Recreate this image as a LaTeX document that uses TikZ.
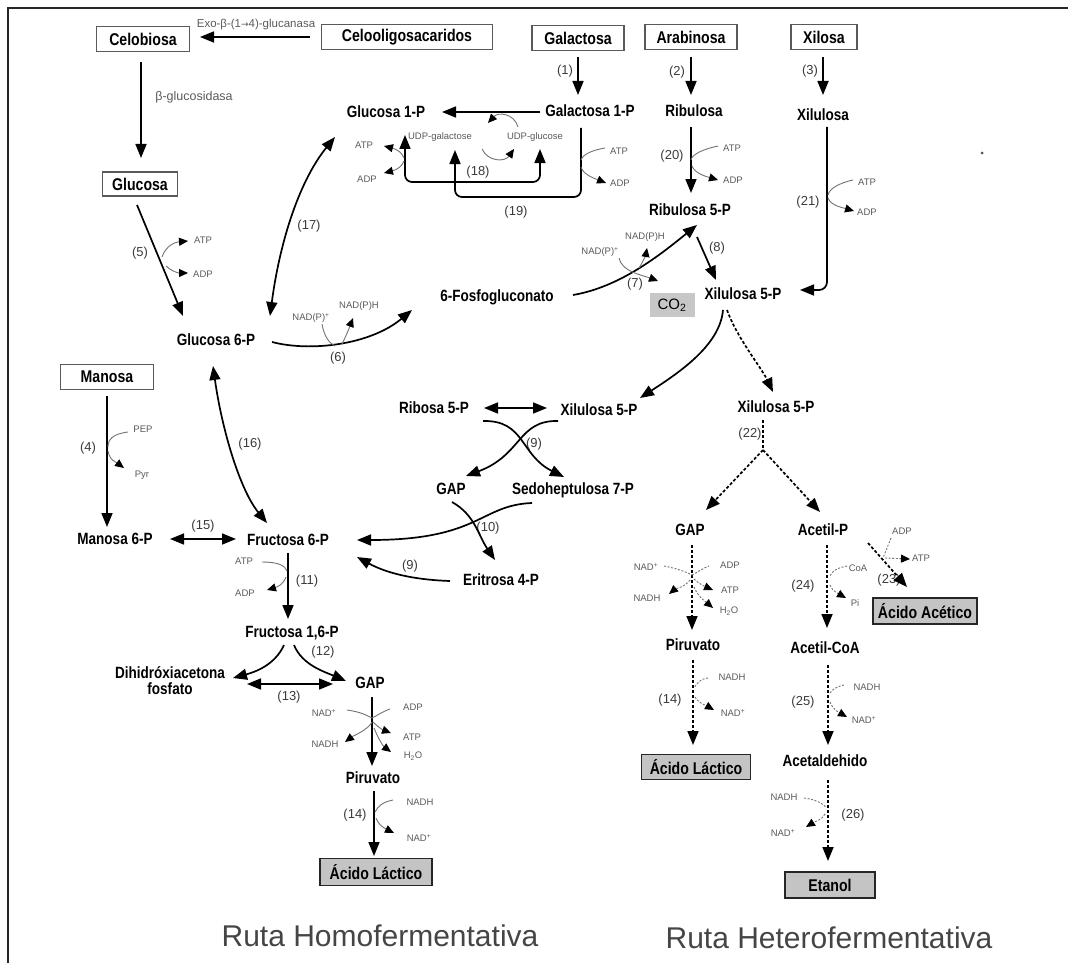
\documentclass[tikz,border=0pt]{standalone}
\usepackage{fontspec}
\setmainfont{Liberation Sans}
\newfontfamily\narrowfont[FakeStretch=0.83]{Liberation Sans}
\newfontfamily\djv{DejaVu Sans}
\usetikzlibrary{arrows.meta,calc}
\definecolor{txtgrey}{HTML}{5A5A5A}
\definecolor{numgrey}{HTML}{3A3A3A}
\definecolor{boxfill}{HTML}{C4C4C4}
\definecolor{titlegrey}{HTML}{454545}
\begin{document}
\begin{tikzpicture}[x=1pt,y=-1pt,
  lbl/.style={font=\narrowfont\bfseries\fontsize{16.3}{17}\selectfont, inner sep=1pt},
  srcbox/.style={draw=black!65, line width=1.1pt, font=\narrowfont\bfseries\fontsize{17}{18}\selectfont, inner sep=0pt, minimum height=25pt},
  endbox/.style={draw=black!85, line width=1.4pt, fill=boxfill, font=\narrowfont\bfseries\fontsize{17}{18}\selectfont, inner sep=0pt, minimum height=26pt},
  sm/.style={font=\fontsize{9.5}{10}\selectfont, text=txtgrey, inner sep=0.5pt},
  num/.style={font=\fontsize{13}{14}\selectfont, text=numgrey, inner sep=0.5pt},
  arr/.style={line width=1.7pt, -{Triangle[length=14pt,width=11pt]}},
  dbl/.style={line width=1.7pt, {Triangle[length=14pt,width=11pt]}-{Triangle[length=14pt,width=11pt]}},
  dsh/.style={dash pattern=on 3pt off 2pt},
  cof/.style={line width=0.9pt, draw=black!55},
  cofa/.style={cof, -{Triangle[length=9pt,width=8pt,color=black]}},
  cofd/.style={cof, dash pattern=on 2pt off 1.6pt},
]
\useasboundingbox (0,0) rectangle (1068,963);
% frame
\draw[line width=2pt, black!85] (8,963) -- (8,8) -- (1068,8);

% ---------- nodes ----------
\node[srcbox, minimum width=93pt]  (celob) at (143,39) {Celobiosa};
\node[srcbox, minimum width=171pt] (celoo) at (407,37) {Celooligosacaridos};
\node[srcbox, minimum width=92pt]  (galac) at (578,38) {Galactosa};
\node[srcbox, minimum width=92pt]  (arab)  at (691,37) {Arabinosa};
\node[srcbox, minimum width=66pt]  (xil)   at (824,37) {Xilosa};
\node[srcbox, minimum width=75pt, minimum height=24pt] (gluc) at (140,184) {Glucosa};
\node[srcbox, minimum width=93pt]  (man)   at (107,377) {Manosa};

\node[lbl] (gal1p) at (590,111) {Galactosa 1-P};
\node[lbl] (rib)   at (694,111) {Ribulosa};
\node[lbl] (xilu)  at (823,115) {Xilulosa};
\node[lbl] (glc1p) at (386,112) {Glucosa 1-P};
\node[sm]  (udpgal) at (440,137) {UDP-galactose};
\node[sm]  (udpglc) at (535,137) {UDP-glucose};
\node[lbl] (rib5p) at (690,210) {Ribulosa 5-P};
\node[lbl] (xu5pa) at (743,294) {Xilulosa 5-P};
\node[lbl] (fosf)  at (497,297) {6-Fosfogluconato};
\node[fill=black!22, minimum width=45pt, minimum height=24pt, inner sep=0pt, font=\fontsize{15}{16}\selectfont] (co2) at (672,305) {CO\textsubscript{2}};
\node[lbl] (g6p)   at (216,340) {Glucosa 6-P};
\node[lbl] (r5p)   at (434,408) {Ribosa 5-P};
\node[lbl] (xu5pb) at (599,410) {Xilulosa 5-P};
\node[lbl] (xu5pc) at (776,407) {Xilulosa 5-P};
\node[lbl] (gapa)  at (451,489) {GAP};
\node[lbl] (sedo)  at (573,490) {Sedoheptulosa 7-P};
\node[lbl] (m6p)   at (115,539) {Manosa 6-P};
\node[lbl] (f6p)   at (288,540) {Fructosa 6-P};
\node[lbl] (e4p)   at (501,580) {Eritrosa 4-P};
\node[lbl] (f16p)  at (292,633) {Fructosa 1,6-P};
\node[lbl, align=center] (dhap) at (170,681) {Dihidróxiacetona\\[-1pt]fosfato};
\node[lbl] (gapb)  at (370,683) {GAP};
\node[lbl] (pyra)  at (373,778) {Piruvato};
\node[endbox, minimum width=112pt, minimum height=27pt] (lac1) at (376,872) {Ácido Láctico};
\node[lbl] (gapc)  at (690,530) {GAP};
\node[lbl] (acp)   at (823,530) {Acetil-P};
\node[endbox, minimum width=104pt] (acet) at (925,611) {Ácido Acético};
\node[lbl] (pyrb)  at (693,645) {Piruvato};
\node[lbl] (accoa) at (825,648) {Acetil-CoA};
\node[endbox, minimum width=109pt, minimum height=25pt] (lac2) at (696,767) {Ácido Láctico};
\node[lbl] (acald) at (825,761) {Acetaldehido};
\node[endbox, minimum width=90pt] (etan) at (830,885) {Etanol};

\node[font=\fontsize{30}{32}\selectfont, text=titlegrey] (t1) at (380,936) {Ruta Homofermentativa};
\node[font=\fontsize{30}{32}\selectfont, text=titlegrey] (t2) at (829,938) {Ruta Heterofermentativa};
\node[circle, fill=black!70, inner sep=0pt, minimum size=3pt] (dot) at (982,153) {};

% enzyme labels
\node[font=\fontsize{11.5}{12}\selectfont, text=txtgrey, inner sep=0pt] (exo) at (256,25) {Exo-β-(1{\djv\fontsize{9}{10}\selectfont→}4)-glucanasa};
\node[font=\fontsize{12.5}{13}\selectfont, text=txtgrey, inner sep=0pt] (bglu) at (194,97) {β-glucosidasa};

% cofactor labels
\node[sm] (atpA) at (364,145) {ATP};
\node[sm] (adpA) at (367,179) {ADP};
\node[sm] (atpB) at (619,151) {ATP};
\node[sm] (adpB) at (620,183) {ADP};
\node[sm] (atpC) at (732,148) {ATP};
\node[sm] (adpC) at (733,180) {ADP};
\node[sm] (atpD) at (867,182) {ATP};
\node[sm] (adpD) at (867,212) {ADP};
\node[sm] (nadp1) at (600,252) {NAD(P)\textsuperscript{+}};
\node[sm] (nadph1) at (645,237) {NAD(P)H};
\node[sm] (atpE) at (203,240) {ATP};
\node[sm] (adpE) at (203,274) {ADP};
\node[sm] (nadp2) at (311,318) {NAD(P)\textsuperscript{+}};
\node[sm] (nadph2) at (359,306) {NAD(P)H};
\node[sm] (pep) at (143,429) {PEP};
\node[sm] (pyr) at (142,475) {Pyr};
\node[sm] (atpF) at (244,561) {ATP};
\node[sm] (adpF) at (245,593) {ADP};
\node[sm] (nad1) at (324,713) {NAD\textsuperscript{+}};
\node[sm] (nadh1) at (325,744) {NADH};
\node[sm] (adp1) at (413,707) {ADP};
\node[sm] (atp1) at (412,737) {ATP};
\node[sm] (h2o1) at (413,756) {H\textsubscript{2}O};
\node[sm] (nadh2) at (420,802) {NADH};
\node[sm] (nad2) at (419,838) {NAD\textsuperscript{+}};
\node[sm] (nad3) at (646,567) {NAD\textsuperscript{+}};
\node[sm] (nadh3) at (647,598) {NADH};
\node[sm] (adp3) at (730,565) {ADP};
\node[sm] (atp3) at (730,590) {ATP};
\node[sm] (h2o3) at (729,611) {H\textsubscript{2}O};
\node[sm] (nadh4) at (732,677) {NADH};
\node[sm] (nad4) at (733,713) {NAD\textsuperscript{+}};
\node[sm] (coa) at (858,568) {CoA};
\node[sm] (pi) at (855,603) {Pi};
\node[sm] (adp5) at (902,531) {ADP};
\node[sm] (atp5) at (921,558) {ATP};
\node[sm] (nadh5) at (867,687) {NADH};
\node[sm] (nad5) at (864,720) {NAD\textsuperscript{+}};
\node[sm] (nadh6) at (784,797) {NADH};
\node[sm] (nad6) at (783,833) {NAD\textsuperscript{+}};

% reaction numbers
\node[num] (n1) at (565,71) {(1)};
\node[num] (n2) at (677,72) {(2)};
\node[num] (n3) at (810,71) {(3)};
\node[num] (n5) at (140,253) {(5)};
\node[num] (n17) at (309,226) {(17)};
\node[num] (n18) at (478,172) {(18)};
\node[num] (n19) at (516,212) {(19)};
\node[num] (n20) at (672,156) {(20)};
\node[num] (n21) at (808,202) {(21)};
\node[num] (n8) at (717,248) {(8)};
\node[num] (n7) at (635,284) {(7)};
\node[num] (n6) at (338,358) {(6)};
\node[num] (n4) at (88,448) {(4)};
\node[num] (n16) at (250,444) {(16)};
\node[num] (n15) at (203,526) {(15)};
\node[num] (n11) at (307,581) {(11)};
\node[num] (n12) at (323,652) {(12)};
\node[num] (n13) at (289,697) {(13)};
\node[num] (n14a) at (355,815) {(14)};
\node[num] (n9a) at (534,444) {(9)};
\node[num] (n10) at (488,528) {(10)};
\node[num] (n9b) at (410,566) {(9)};
\node[num] (n22) at (750,434) {(22)};
\node[num] (n24) at (803,586) {(24)};
\node[num] (n23) at (889,580) {(23)};
\node[num] (n14b) at (670,700) {(14)};
\node[num] (n25) at (803,702) {(25)};
\node[num] (n26) at (853,815) {(26)};

% ---------- main connectors ----------
\draw[arr] ($(celoo)+(-97,0)$) -- ($(celob)+(57,-2)$);
\draw[arr] ($(celob)+(-2,23)$) -- ($(gluc)+(1,-26)$);
\draw[arr] ($(galac)+(0,19)$) -- ($(gal1p)+(-12,-16)$);
\draw[arr] ($(arab)+(0,20)$) -- ($(rib)+(-3,-16)$);
\draw[arr] ($(xil)+(-1,20)$) -- ($(xilu)+(0,-20)$);
\draw[arr] ($(gal1p)+(-50,1)$) -- ($(glc1p)+(56,0)$);
\draw[dbl, rounded corners=7pt] ($(glc1p)+(19,23)$) -- ($(glc1p)+(19,70)$) -- ($(udpglc)+(5,45)$) -- ($(udpglc)+(5,12)$);
\draw[arr, rounded corners=7pt] ($(gal1p)+(-9,17)$) -- ($(gal1p)+(-9,86)$) -- ($(udpgal)+(15,60)$) -- ($(udpgal)+(15,13)$);
\draw[cofa] ($(udpglc)+(-17,-10)$) .. controls +(-4,-14) and +(10,-11) .. ($(udpgal)+(48,-14)$);
\draw[cofa] ($(udpgal)+(42,12)$) .. controls +(6,13) and +(-9,13) .. ($(udpglc)+(-21,12)$);
\draw[cofa] ($(glc1p)+(18,46)$) .. controls +(-3,-8) and +(8,2) .. ($(atpA)+(20,1)$);
\draw[cofa] ($(glc1p)+(18,49)$) .. controls +(-3,8) and +(8,-2) .. ($(adpA)+(17,-6)$);
\draw[cof] ($(atpB)+(-14,-3)$) .. controls +(-12,2) and +(2,-6) .. ($(gal1p)+(-9,49)$);
\draw[cofa] ($(gal1p)+(-9,56)$) .. controls +(2,8) and +(-10,-4) .. ($(adpB)+(-14,0)$);
\draw[arr] ($(rib)+(-3,16)$) -- ($(rib5p)+(1,-17)$);
\draw[cof] ($(atpC)+(-14,-2)$) .. controls +(-14,3) and +(1,-6) .. ($(rib)+(-3,49)$);
\draw[cofa] ($(rib)+(-2,55)$) .. controls +(3,8) and +(-10,-3) .. ($(adpC)+(-15,0)$);
\draw[arr, rounded corners=8pt] ($(xilu)+(4,12)$) -- ($(xilu)+(4,175)$) -- ($(xu5pa)+(57,-4)$);
\draw[cof] ($(atpD)+(-14,-2)$) .. controls +(-14,3) and +(1,-6) .. ($(xilu)+(5,80)$);
\draw[cofa] ($(xilu)+(5,83)$) .. controls +(3,8) and +(-10,-3) .. ($(adpD)+(-13,-1)$);
\draw[arr] ($(rib5p)+(7,27)$) -- ($(xu5pa)+(-27,-14)$);
\draw[arr] ($(fosf)+(76,-2)$) .. controls +(47,-8) and +(-37,30) .. ($(rib5p)+(7,15)$);
\draw[cofa] ($(nadp1)+(19,6)$) .. controls +(3,14) and +(-16,-6) .. ($(co2)+(-14,-24)$);
\draw[cofa] ($(nadph1)+(-6,31)$) .. controls +(4,-6) and +(-1,6) .. ($(nadph1)+(2,11)$);
\draw[arr] ($(gluc)+(-3,21)$) -- ($(g6p)+(-33,-24)$);
\draw[cofa] ($(gluc)+(22,73)$) .. controls +(4,-12) and +(-12,1) .. ($(atpE)+(-15,1)$);
\draw[cofa] ($(gluc)+(26,82)$) .. controls +(5,5) and +(-10,0) .. ($(adpE)+(-15,-1)$);
\draw[dbl] ($(g6p)+(54,-24)$) .. controls +(10,-76) and +(-35,43) .. ($(glc1p)+(-51,25)$);
\draw[arr] ($(g6p)+(56,2)$) .. controls +(38,10) and +(-42,35) .. ($(fosf)+(-85,13)$);
\draw[cof] ($(nadp2)+(11,6)$) .. controls +(2,12) and +(-6,-3) .. ($(g6p)+(119,6)$);
\draw[cofa] ($(g6p)+(126,4)$) .. controls +(5,-10) and +(-3,8) .. ($(nadph2)+(-6,12)$);
\draw[dbl] ($(g6p)+(-3,26)$) .. controls +(9,64) and +(-27,-33) .. ($(f6p)+(-21,-17)$);
\draw[arr] ($(man)+(0,19)$) -- ($(m6p)+(-8,-12)$);
\draw[cof] ($(pep)+(-15,3)$) .. controls +(-15,2) and +(0,-8) .. ($(man)+(1,70)$);
\draw[cofa] ($(man)+(1,74)$) .. controls +(2,10) and +(-8,-6) .. ($(pyr)+(-18,-7)$);
\draw[dbl] ($(m6p)+(55,0)$) -- ($(f6p)+(-52,-1)$);
\draw[arr] ($(f6p)+(0,13)$) -- ($(f16p)+(-4,-14)$);
\draw[cof] ($(atpF)+(18,1)$) .. controls +(15,0) and +(-2,-6) .. ($(f6p)+(-1,31)$);
\draw[cofa] ($(f6p)+(-2,37)$) .. controls +(-3,8) and +(10,-3) .. ($(adpF)+(22,-3)$);
\draw[arr] ($(f16p)+(-8,12)$) .. controls +(-9,20) and +(22,-6) .. ($(dhap)+(63,-3)$);
\draw[arr] ($(f16p)+(2,12)$) .. controls +(8,20) and +(-21,-9) .. ($(gapb)+(-24,-2)$);
\draw[dbl] ($(dhap)+(77,3)$) -- ($(gapb)+(-37,1)$);
\draw[arr] ($(gapb)+(2,14)$) -- ($(pyra)+(-1,-12)$);
\draw[cof] ($(nad1)+(23,-3)$) .. controls +(14,2) and +(-6,-3) .. ($(gapb)+(2,35)$);
\draw[cof] ($(gapb)+(2,35)$) .. controls +(6,-3) and +(-8,3) .. ($(adp1)+(-23,2)$);
\draw[cofa] ($(gapb)+(2,39)$) .. controls +(-4,8) and +(8,-6) .. ($(nadh1)+(20,-2)$);
\draw[cofa] ($(gapb)+(3,39)$) .. controls +(5,5) and +(-8,-3) .. ($(atp1)+(-21,-4)$);
\draw[cofa] ($(gapb)+(4,45)$) .. controls +(4,10) and +(-8,-6) .. ($(h2o1)+(-22,-4)$);
\draw[arr] ($(pyra)+(1,13)$) -- ($(lac1)+(-2,-16)$);
\draw[cof] ($(nadh2)+(-27,-2)$) .. controls +(-10,2) and +(3,-6) .. ($(pyra)+(2,34)$);
\draw[cofa] ($(pyra)+(3,40)$) .. controls +(3,8) and +(-8,-4) .. ($(nad2)+(-25,-5)$);

% pentose phosphate part
\draw[arr] ($(xu5pa)+(-20,16)$) .. controls +(-3,35) and +(40,-26) .. ($(xu5pb)+(41,-12)$);
\draw[dbl] ($(r5p)+(50,0)$) -- ($(xu5pb)+(-52,-2)$);
\draw[arr] ($(r5p)+(49,13)$) .. controls +(42,-1) and +(-44,-22) .. ($(sedo)+(-9,-13)$);
\draw[arr] ($(xu5pb)+(-41,11)$) .. controls +(-40,-1) and +(56,-21) .. ($(gapa)+(15,-13)$);
\draw[arr] ($(gapa)+(1,13)$) .. controls +(23,13) and +(-17,-25) .. ($(e4p)+(-6,-20)$);
\draw[arr] ($(sedo)+(-41,13)$) .. controls +(-52,2) and +(123,0) .. ($(f6p)+(69,0)$);
\draw[arr] ($(e4p)+(-51,1)$) .. controls +(-30,-1) and +(33,18) .. ($(f6p)+(69,17)$);

% heterofermentative (dashed)
\draw[arr, dsh] ($(xu5pa)+(-16,16)$) .. controls +(10,28) and +(-12,-25) .. ($(xu5pc)+(-3,-15)$);
\coordinate (split) at ($(xu5pc)+(-13,43)$);
\draw[line width=1.7pt, dsh] ($(xu5pc)+(-13,13)$) -- (split);
\draw[arr, dsh] (split) -- ($(gapc)+(16,-20)$);
\draw[arr, dsh] (split) -- ($(acp)+(-3,-18)$);
\draw[arr, dsh] ($(gapc)+(2,15)$) -- ($(pyrb)+(-1,-15)$);
\draw[cofd] ($(nad3)+(18,-1)$) .. controls +(15,3) and +(-6,-3) .. ($(gapc)+(2,45)$);
\draw[cofd] ($(gapc)+(2,45)$) .. controls +(6,-3) and +(-6,2) .. ($(adp3)+(-21,1)$);
\draw[cofa, cofd] ($(gapc)+(0,50)$) .. controls +(-5,7) and +(6,-5) .. ($(nadh3)+(22,-4)$);
\draw[cofa, cofd] ($(gapc)+(4,49)$) .. controls +(5,5) and +(-7,-3) .. ($(atp3)+(-17,0)$);
\draw[cofa, cofd] ($(gapc)+(4,57)$) .. controls +(4,10) and +(-7,-6) .. ($(h2o3)+(-16,-3)$);
\draw[arr, dsh] ($(pyrb)+(0,15)$) -- ($(lac2)+(-3,-22)$);
\draw[cofd] ($(nadh4)+(-24,1)$) .. controls +(-8,1) and +(3,-5) .. ($(pyrb)+(1,43)$);
\draw[cofa, cofd] ($(pyrb)+(2,52)$) .. controls +(3,6) and +(-7,-4) .. ($(nad4)+(-19,-3)$);
\draw[arr, dsh] ($(acp)+(4,15)$) -- ($(accoa)+(2,-20)$);
\draw[cofd] ($(coa)+(-11,-2)$) .. controls +(-10,2) and +(2,-5) .. ($(acp)+(7,46)$);
\draw[cofa, cofd] ($(acp)+(7,55)$) .. controls +(3,7) and +(-7,-4) .. ($(pi)+(-9,-5)$);
\draw[arr, dsh] ($(acp)+(45,13)$) -- ($(acet)+(-18,-24)$);
\draw[cofd] ($(adp5)+(-11,7)$) -- ($(acp)+(60,28)$);
\draw[cofa, cofd] ($(acp)+(62,28)$) -- ($(atp5)+(-11,1)$);
\draw[arr, dsh] ($(accoa)+(3,17)$) -- ($(acald)+(3,-16)$);
\draw[cofd] ($(nadh5)+(-23,-2)$) .. controls +(-8,2) and +(3,-4) .. ($(accoa)+(5,45)$);
\draw[cofa, cofd] ($(accoa)+(5,54)$) .. controls +(3,8) and +(-7,-4) .. ($(nad5)+(-17,-3)$);
\draw[arr, dsh] ($(acald)+(3,19)$) -- ($(etan)+(-2,-24)$);
\draw[cofd] ($(nadh6)+(20,1)$) .. controls +(10,1) and +(-4,-4) .. ($(acald)+(1,46)$);
\draw[cofa, cofd] ($(acald)+(0,53)$) .. controls +(-3,6) and +(8,-5) .. ($(nad6)+(23,-6)$);
\end{tikzpicture}
\end{document}
